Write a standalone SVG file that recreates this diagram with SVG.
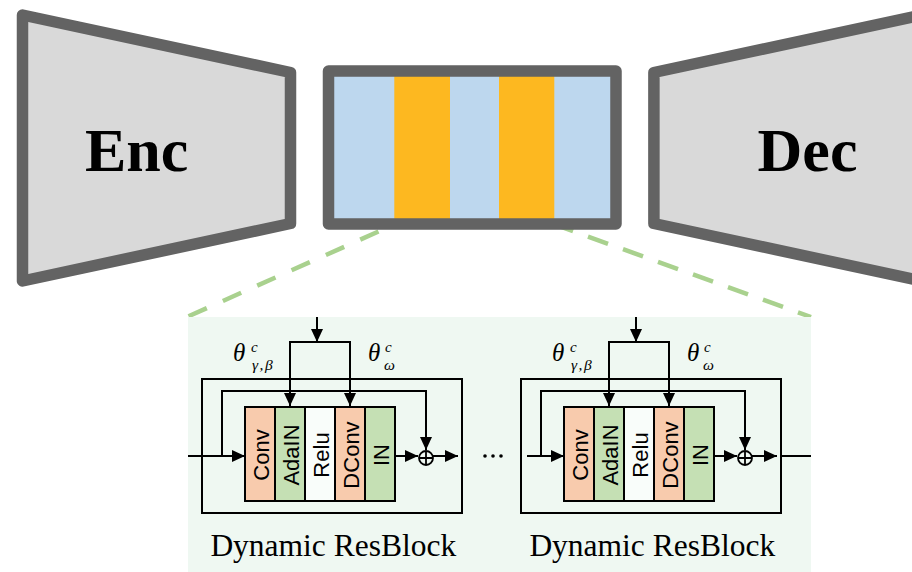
<svg xmlns="http://www.w3.org/2000/svg" width="912" height="572" viewBox="0 0 912 572">
  <defs>
    <style>
      .trap { fill: #d9d9d9; stroke: #636363; stroke-width: 11.5; stroke-linejoin: round; }
      .big { font-family: "Liberation Serif", "Times New Roman", serif; font-weight: bold; font-size: 62px; fill: #000; text-anchor: middle; }
      .dash { fill: none; stroke: #a9d18e; stroke-width: 4.5; }
      .box { fill: none; stroke: #000; stroke-width: 2; }
      .ln { fill: none; stroke: #000; stroke-width: 2; }
      .arr { fill: none; stroke: #000; stroke-width: 2; marker-end: url(#ah); }
      .salmon { fill: #f8cbad; }
      .green { fill: #c5e0b4; }
      .white { fill: #f9fdfa; }
      .lay { font-family: "Liberation Sans", Arial, sans-serif; font-size: 22px; fill: #000; text-anchor: middle; }
      .cap { font-family: "Liberation Serif", "Times New Roman", serif; font-size: 31.5px; fill: #000; text-anchor: middle; }
      .th { font-family: "Liberation Serif", "Times New Roman", serif; font-style: italic; font-size: 25px; fill: #000; }
      .sc { font-size: 15px; }
      .sub { font-size: 15.5px; letter-spacing: 1.5px; }
    </style>
    <marker id="ah" viewBox="0 0 13 12" refX="13" refY="6" markerWidth="13" markerHeight="12" markerUnits="userSpaceOnUse" orient="auto">
      <path d="M0 0 L13 6 L0 12 Z" fill="#000"/>
    </marker>
  </defs>

  <rect width="912" height="572" fill="#ffffff"/>

  <!-- zoom-in dashed guide lines -->
  <g id="guides">
    <path class="dash" d="M378.5 231.5 L188 316.5" stroke-dasharray="20 17.6"/>
    <path class="dash" d="M553 224 L811 317" stroke-dasharray="21.3 15.9"/>
  </g>

  <g id="enc">
    <polygon class="trap" points="22.5,15 290.5,72.5 290.5,223.5 22.5,281"/>
    <text class="big" x="136.7" y="170.7">Enc</text>
  </g>

  <g id="bottleneck">
    <rect x="328.5" y="71" width="287.5" height="153" fill="#bdd7ee"/>
    <rect x="394.3" y="71" width="55.7" height="153" fill="#fdb820"/>
    <rect x="499" y="71" width="55.3" height="153" fill="#fdb820"/>
    <rect x="328.5" y="71" width="287.5" height="153" fill="none" stroke="#636363" stroke-width="11.5" stroke-linejoin="round"/>
  </g>

  <g id="dec">
    <polygon class="trap" points="921.9,15 653.9,72.5 653.9,223.5 921.9,281"/>
    <text class="big" x="807.5" y="170.7">Dec</text>
  </g>

  <g id="panel">
    <rect x="188" y="317" width="623" height="255" fill="#eff8f2"/>
  </g>

  <g id="resblock1">
    <rect class="box" x="202" y="379" width="260" height="134"/>
    <g id="rb1-layers">
      <rect class="salmon" x="245" y="407" width="30" height="94"/>
      <rect class="green" x="275" y="407" width="30" height="94"/>
      <rect class="white" x="305" y="407" width="30" height="94"/>
      <rect class="salmon" x="335" y="407" width="30" height="94"/>
      <rect class="green" x="365" y="407" width="30" height="94"/>
      <path class="ln" d="M275 407 V501 M305 407 V501 M335 407 V501 M365 407 V501"/>
      <rect class="box" x="245" y="407" width="150" height="94"/>
      <text class="lay" transform="translate(268.5,455) rotate(-90)">Conv</text>
      <text class="lay" transform="translate(298.5,455) rotate(-90)">AdaIN</text>
      <text class="lay" transform="translate(328.5,455) rotate(-90)">Relu</text>
      <text class="lay" transform="translate(358.5,455) rotate(-90)">DConv</text>
      <text class="lay" transform="translate(388.5,455) rotate(-90)">IN</text>
    </g>
    <g id="rb1-sum">
      <circle cx="426" cy="458" r="7" fill="none" stroke="#000" stroke-width="1.8"/>
      <path d="M419 458 H433 M426 451 V465" stroke="#000" stroke-width="1.8"/>
    </g>
    <text class="th" x="233" y="361">θ<tspan class="sc" x="251" y="352">c</tspan><tspan class="sub" x="252" y="369.5">γ,β</tspan></text>
    <text class="th" x="368" y="361">θ<tspan class="sc" x="385" y="352">c</tspan><tspan class="sub" x="384" y="369.5">ω</tspan></text>
    <text class="cap" x="333.3" y="556">Dynamic ResBlock</text>
  </g>

  <g id="resblock2">
    <rect class="box" x="521" y="379" width="260" height="134"/>
    <g id="rb2-layers">
      <rect class="salmon" x="564" y="407" width="30" height="94"/>
      <rect class="green" x="594" y="407" width="30" height="94"/>
      <rect class="white" x="624" y="407" width="30" height="94"/>
      <rect class="salmon" x="654" y="407" width="30" height="94"/>
      <rect class="green" x="684" y="407" width="30" height="94"/>
      <path class="ln" d="M594 407 V501 M624 407 V501 M654 407 V501 M684 407 V501"/>
      <rect class="box" x="564" y="407" width="150" height="94"/>
      <text class="lay" transform="translate(587.5,455) rotate(-90)">Conv</text>
      <text class="lay" transform="translate(617.5,455) rotate(-90)">AdaIN</text>
      <text class="lay" transform="translate(647.5,455) rotate(-90)">Relu</text>
      <text class="lay" transform="translate(677.5,455) rotate(-90)">DConv</text>
      <text class="lay" transform="translate(707.5,455) rotate(-90)">IN</text>
    </g>
    <g id="rb2-sum">
      <circle cx="745" cy="458" r="7" fill="none" stroke="#000" stroke-width="1.8"/>
      <path d="M738 458 H752 M745 451 V465" stroke="#000" stroke-width="1.8"/>
    </g>
    <text class="th" x="552" y="361">θ<tspan class="sc" x="570" y="352">c</tspan><tspan class="sub" x="571" y="369.5">γ,β</tspan></text>
    <text class="th" x="687" y="361">θ<tspan class="sc" x="704" y="352">c</tspan><tspan class="sub" x="703" y="369.5">ω</tspan></text>
    <text class="cap" x="652.3" y="556">Dynamic ResBlock</text>
  </g>

  <g id="ellipsis">
    <circle cx="485" cy="456" r="1.8" fill="#000"/>
    <circle cx="493" cy="456" r="1.8" fill="#000"/>
    <circle cx="501" cy="456" r="1.8" fill="#000"/>
  </g>

  <g id="connectors">
    <!-- block 1 -->
    <path class="arr" d="M188 456 H245"/>
    <path class="arr" d="M222 456 V391 H426 V450"/>
    <path class="arr" d="M395 456 H418"/>
    <path class="arr" d="M433 456 H458"/>
    <path class="arr" d="M317 317 V342"/>
    <path class="arr" d="M317 342 H290 V406"/>
    <path class="arr" d="M317 342 H350 V406"/>
    <!-- block 2 -->
    <path class="arr" d="M527 456 H564"/>
    <path class="arr" d="M541 456 V391 H745 V450"/>
    <path class="arr" d="M714 456 H737"/>
    <path class="arr" d="M752 456 H777"/>
    <path class="ln" d="M781 456 H811"/>
    <path class="arr" d="M636 317 V342"/>
    <path class="arr" d="M636 342 H609 V406"/>
    <path class="arr" d="M636 342 H669 V406"/>
  </g>
</svg>
